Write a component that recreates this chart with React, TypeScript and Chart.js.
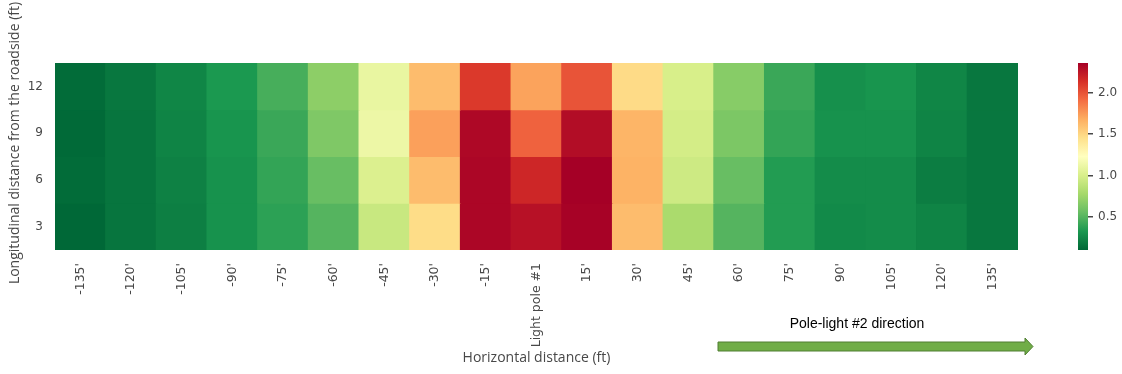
import React, { useEffect, useRef } from "react";
import { Chart, registerables } from "chart.js";

Chart.register(...registerables);

// ---- data ----
const columns = [
  "-135'", "-120'", "-105'", "-90'", "-75'", "-60'", "-45'", "-30'", "-15'",
  "Light pole #1",
  "15'", "30'", "45'", "60'", "75'", "90'", "105'", "120'", "135'",
];
const rowLabels = [12, 9, 6, 3];
const row12 = [0.12, 0.17, 0.24, 0.33, 0.46, 0.69, 1.1, 1.62, 2.1, 1.72, 2.0, 1.48, 1.0, 0.67, 0.42, 0.29, 0.31, 0.24, 0.17];
const row9 = [0.11, 0.16, 0.23, 0.31, 0.42, 0.64, 1.12, 1.73, 2.32, 1.95, 2.3, 1.65, 0.98, 0.63, 0.4, 0.3, 0.3, 0.23, 0.17];
const row6 = [0.12, 0.16, 0.22, 0.3, 0.4, 0.56, 1.02, 1.62, 2.33, 2.18, 2.36, 1.66, 0.95, 0.56, 0.35, 0.27, 0.27, 0.2, 0.17];
const row3 = [0.1, 0.16, 0.21, 0.3, 0.38, 0.5, 0.93, 1.47, 2.33, 2.28, 2.35, 1.62, 0.8, 0.5, 0.35, 0.26, 0.27, 0.23, 0.17];
const rowValues = [row12, row9, row6, row3];
const colorbarTicks = [0.5, 1.0, 1.5, 2.0];

// ---- colormap (RdYlGn reversed) ----
const RDYLGN_R = [
  "#006837", "#1a9850", "#66bd63", "#a6d96a", "#d9ef8b", "#ffffbf",
  "#fee08b", "#fdae61", "#f46d43", "#d73027", "#a50026",
];
const hexToRgb = (h: string) => [
  parseInt(h.slice(1, 3), 16),
  parseInt(h.slice(3, 5), 16),
  parseInt(h.slice(5, 7), 16),
];
const allVals = rowValues.flat();
const vmin = Math.min(...allVals);
const vmax = Math.max(...allVals);
const cmap = (v: number) => {
  let t = (v - vmin) / (vmax - vmin);
  t = Math.max(0, Math.min(1, t));
  const pos = t * (RDYLGN_R.length - 1);
  const i = Math.min(Math.floor(pos), RDYLGN_R.length - 2);
  const f = pos - i;
  const a = hexToRgb(RDYLGN_R[i]);
  const b = hexToRgb(RDYLGN_R[i + 1]);
  const c = a.map((x, k) => Math.round(x + (b[k] - x) * f));
  return `rgb(${c[0]},${c[1]},${c[2]})`;
};

const TEXT = "#484848";
const TICK_FONT = { family: "DejaVu Sans", size: 12 };

const overlayPlugin = {
  id: "overlay",
  afterDraw(chart: any) {
    const ctx = chart.ctx as CanvasRenderingContext2D;
    ctx.save();
    ctx.fillStyle = TEXT;
    // y title
    ctx.font = "14px 'Open Sans'";
    ctx.textAlign = "center";
    ctx.textBaseline = "middle";
    ctx.save();
    ctx.translate(15, 143);
    ctx.rotate(-Math.PI / 2);
    ctx.fillText("Longitudinal distance from the roadside (ft)", 0, 0);
    ctx.restore();
    // x title
    ctx.fillText("Horizontal distance (ft)", (chart.chartArea.left + chart.chartArea.right) / 2, 358);
    // arrow label
    ctx.fillStyle = "#000";
    ctx.font = "14px 'Liberation Sans Narrow', 'Liberation Sans'";
    ctx.fillText("Pole-light #2 direction", 857, 324);
    // arrow
    ctx.beginPath();
    ctx.moveTo(718, 342);
    ctx.lineTo(1025, 342);
    ctx.lineTo(1025, 338);
    ctx.lineTo(1033, 346.5);
    ctx.lineTo(1025, 355);
    ctx.lineTo(1025, 351);
    ctx.lineTo(718, 351);
    ctx.closePath();
    ctx.fillStyle = "#70ad47";
    ctx.fill();
    ctx.strokeStyle = "#507e32";
    ctx.lineWidth = 1;
    ctx.stroke();
    ctx.restore();
  },
};

const colorbarPlugin = {
  id: "cbfill",
  beforeDatasetsDraw(chart: any) {
    const { ctx, chartArea } = chart;
    const g = ctx.createLinearGradient(0, chartArea.bottom, 0, chartArea.top);
    RDYLGN_R.forEach((c, i) => g.addColorStop(i / (RDYLGN_R.length - 1), c));
    ctx.save();
    ctx.fillStyle = g;
    ctx.fillRect(chartArea.left, chartArea.top, chartArea.right - chartArea.left, chartArea.bottom - chartArea.top);
    ctx.restore();
  },
};

export default function App() {
  const mainRef = useRef<HTMLCanvasElement>(null);
  const cbRef = useRef<HTMLCanvasElement>(null);

  useEffect(() => {
    const main = new Chart(mainRef.current!, {
      type: "bar",
      data: {
        labels: columns,
        datasets: rowLabels.map((r, i) => ({
          label: String(r),
          data: columns.map(() => [r - 1.5, r + 1.5]) as any,
          backgroundColor: rowValues[i].map(cmap),
          borderWidth: 0,
          inflateAmount: 0.6,
          barPercentage: 1,
          categoryPercentage: 1,
          grouped: false,
        })),
      },
      options: {
        responsive: false,
        animation: false,
        devicePixelRatio: 1,
        layout: { padding: { left: 0, top: 63, right: 104, bottom: 0 } },
        plugins: { legend: { display: false }, tooltip: { enabled: false } },
        scales: {
          x: {
            type: "category",
            grid: { display: false, drawTicks: false },
            border: { display: false },
            ticks: {
              color: TEXT,
              font: { family: "DejaVu Sans", size: 12.5 },
              minRotation: 90,
              maxRotation: 90,
              autoSkip: false,
              padding: 13,
            },
            afterFit: (s: any) => {
              s.height = 124;
            },
          },
          y: {
            type: "linear",
            min: 1.5,
            max: 13.5,
            grid: { display: false, drawTicks: false },
            border: { display: false },
            afterBuildTicks: (s: any) => {
              s.ticks = rowLabels.map((v) => ({ value: v }));
            },
            ticks: { color: TEXT, font: TICK_FONT, padding: 12 },
            afterFit: (s: any) => {
              s.width = 55;
            },
          },
        },
      },
      plugins: [overlayPlugin],
    });

    const cb = new Chart(cbRef.current!, {
      type: "bar",
      data: { labels: [""], datasets: [{ data: [null] as any }] },
      options: {
        responsive: false,
        animation: false,
        devicePixelRatio: 1,
        layout: { padding: { left: 38, top: 63, right: 0, bottom: 124 } },
        plugins: { legend: { display: false }, tooltip: { enabled: false } },
        scales: {
          x: { display: false },
          y: {
            type: "linear",
            position: "right",
            min: vmin,
            max: vmax,
            afterBuildTicks: (s: any) => {
              s.ticks = colorbarTicks.map((v) => ({ value: v }));
            },
            ticks: {
              color: TEXT,
              font: TICK_FONT,
              padding: 5,
              callback: (v: any) => Number(v).toFixed(1),
            },
            grid: {
              drawOnChartArea: false,
              drawTicks: true,
              tickLength: 5,
              tickColor: TEXT,
              lineWidth: 1.5,
            },
            border: { display: false },
            afterFit: (s: any) => {
              s.width = 34;
            },
          },
        },
      },
      plugins: [colorbarPlugin],
    });

    return () => {
      main.destroy();
      cb.destroy();
    };
  }, []);

  return (
    <div style={{ position: "fixed", left: 0, top: 0, width: 1122, height: 374, background: "#fff" }}>
      <canvas
        ref={mainRef}
        width={1122}
        height={374}
        style={{ position: "absolute", left: 0, top: 0, width: 1122, height: 374 }}
      />
      <canvas
        ref={cbRef}
        width={82}
        height={374}
        style={{ position: "absolute", left: 1040, top: 0, width: 82, height: 374 }}
      />
    </div>
  );
}
